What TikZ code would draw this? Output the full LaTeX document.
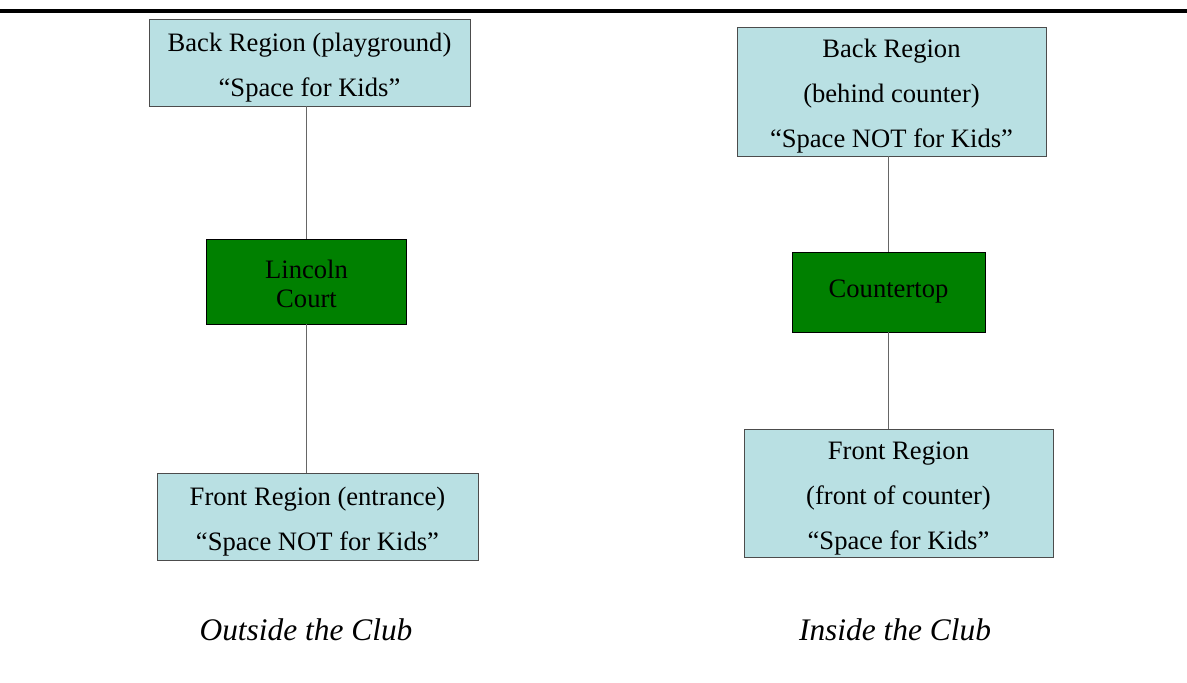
\documentclass[tikz,border=0pt]{standalone}
\usepackage{fontspec}
\setmainfont{Liberation Serif}
\usetikzlibrary{positioning}
\definecolor{regionblue}{RGB}{185,224,227}
\definecolor{placegreen}{RGB}{0,128,0}
\newcommand{\topstrut}[1]{\rule{0pt}{#1}}

\begin{document}
\begin{tikzpicture}[x=0.5pt,y=-0.5pt,
    region/.style={draw=black!70,fill=regionblue,align=center,inner sep=0pt,
      font=\fontsize{13.3}{22.5}\selectfont},
    place/.style={draw=black,fill=placegreen,align=center,inner sep=0pt,
      font=\fontsize{13.3}{14.5}\selectfont},
    link/.style={draw=black!60,line width=0.6pt},
    caption/.style={font=\fontsize{15.7}{18}\selectfont\itshape}]
    \useasboundingbox (0,0) rectangle (1187,683);
    \draw[line width=2.25pt] (0,11) -- (1187,11);
    % outside
    \node[region,minimum width=160.5pt,minimum height=43.5pt] (backout) at (309.5,62.5)
      {\topstrut{14.2pt}Back Region (playground)\\``Space for Kids''};
    \node[place,minimum width=100pt,minimum height=42.5pt] (court) at (306.5,281.5)
      {\topstrut{12.1pt}Lincoln\\Court};
    \node[region,minimum width=160.5pt,minimum height=43.5pt] (frontout) at (317.5,516.5)
      {\topstrut{14.2pt}Front Region (entrance)\\``Space NOT for Kids''};
    \draw[link] (court.north) -- (court.north |- backout.south);
    \draw[link] (court.south) -- (court.south |- frontout.north);
    \node[caption] (outcap) at (306,630) {Outside the Club};
    % inside
    \node[region,minimum width=154.5pt,minimum height=64.5pt] (backin) at (891.5,91.5)
      {\topstrut{14.2pt}Back Region\\(behind counter)\\``Space NOT for Kids''};
    \node[place,minimum width=96.5pt,minimum height=40pt] (counter) at (888.5,292)
      {Countertop};
    \node[region,minimum width=154.5pt,minimum height=64pt] (frontin) at (898.5,493)
      {\topstrut{14.2pt}Front Region\\(front of counter)\\``Space for Kids''};
    \draw[link] (counter.north) -- (counter.north |- backin.south);
    \draw[link] (counter.south) -- (counter.south |- frontin.north);
    \node[caption] (incap) at (895,630) {Inside the Club};
\end{tikzpicture}
\end{document}
